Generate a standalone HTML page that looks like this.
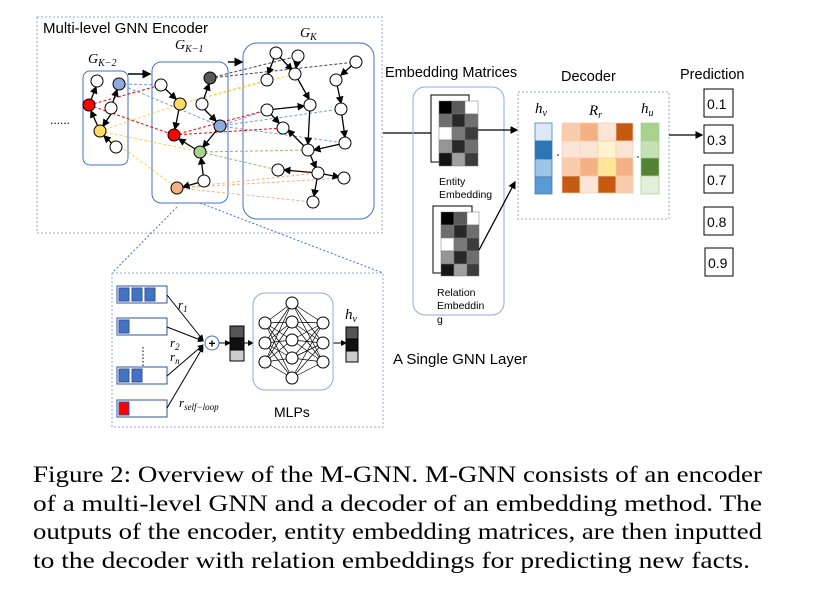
<!DOCTYPE html>
<html><head><meta charset="utf-8"><style>
html,body{margin:0;padding:0;background:#fff;width:836px;height:608px;overflow:hidden}
svg{display:block}
.s{font-family:"Liberation Sans",sans-serif}
.m{font-family:"Liberation Serif",serif;font-style:italic}
</style></head><body>
<svg width="836" height="608" viewBox="0 0 836 608" xmlns="http://www.w3.org/2000/svg">
<defs>
<marker id="a" markerWidth="6" markerHeight="6" refX="5" refY="3" orient="auto"><path d="M0,0 L6,3 L0,6 z" fill="#000"/></marker>
</defs>
<!-- encoder box -->
<rect x="37" y="17" width="345" height="216" fill="none" stroke="#8faadc" stroke-dasharray="2,2"/>
<text x="43" y="33" class="s" font-size="15">Multi-level GNN Encoder</text>
<rect x="83" y="71" width="45" height="94" rx="7" fill="none" stroke="#4472c4"/>
<rect x="152" y="62" width="76" height="141" rx="9" fill="none" stroke="#4472c4"/>
<rect x="243" y="43" width="131" height="176" rx="14" fill="none" stroke="#4472c4"/>
<text x="88" y="63" class="m" font-size="14">G<tspan font-size="10" dy="3">K−2</tspan></text>
<text x="175" y="49" class="m" font-size="14">G<tspan font-size="10" dy="3">K−1</tspan></text>
<text x="300" y="37" class="m" font-size="14">G<tspan font-size="10" dy="3">K</tspan></text>
<text x="50" y="124" class="s" font-size="12">......</text>
<line x1="128" y1="74" x2="150" y2="74" stroke="#000" stroke-width="1.5" marker-end="url(#a)"/>
<line x1="228" y1="62" x2="242" y2="62" stroke="#000" stroke-width="1.5" marker-end="url(#a)"/>
<!-- cross-level dashed links -->
<g fill="none" stroke-dasharray="3,2" stroke-width="1">
<path d="M89,105 L161,85 M89,105 L174,135 M174,135 L267,110 M174,135 L283,128" stroke="#f00"/>
<path d="M119,84 L161,85 M119,84 L220,126 M220,126 L267,110 M220,126 L341,109 M220,126 L345,143" stroke="#4472c4" opacity=".7"/>
<path d="M100,131 L180,104 M100,131 L200,152 M100,131 L177,188 M180,104 L267,80 M180,104 L295,74" stroke="#ffc000" opacity=".7"/>
<path d="M200,152 L308,150 M200,152 L278,170" stroke="#70ad47" opacity=".8"/>
<path d="M177,188 L344,178 M177,188 L313,202 M177,188 L318,173" stroke="#f4b183"/>
<path d="M210,78 L298,56 M210,78 L356,62" stroke="#444"/>
</g>
<!-- graph edges -->
<g stroke="#000" stroke-width="1.3" fill="none" marker-end="url(#a)">
<line x1="89" y1="105" x2="96" y2="87"/><line x1="100" y1="131" x2="91" y2="111"/><line x1="111" y1="108" x2="117" y2="90"/><line x1="111" y1="114" x2="103" y2="126"/><line x1="116" y1="147" x2="104" y2="136"/>
<line x1="161" y1="85" x2="176" y2="99"/><line x1="180" y1="104" x2="175" y2="129"/><line x1="202" y1="104" x2="209" y2="84"/><line x1="204" y1="109" x2="216" y2="121"/><line x1="220" y1="126" x2="203" y2="147"/><line x1="200" y1="152" x2="179" y2="139"/><line x1="204" y1="181" x2="201" y2="158"/><line x1="204" y1="181" x2="183" y2="187"/>
<line x1="276" y1="53" x2="268" y2="74"/><line x1="276" y1="53" x2="292" y2="70"/><line x1="298" y1="56" x2="296" y2="68"/><line x1="295" y1="74" x2="309" y2="99"/><line x1="356" y1="62" x2="341" y2="75"/><line x1="336" y1="80" x2="341" y2="103"/><line x1="341" y1="109" x2="345" y2="137"/><line x1="267" y1="110" x2="304" y2="106"/><line x1="267" y1="110" x2="279" y2="123"/><line x1="310" y1="105" x2="308" y2="144"/><line x1="345" y1="143" x2="314" y2="150"/><line x1="308" y1="150" x2="288" y2="130"/><line x1="308" y1="150" x2="316" y2="168"/><line x1="318" y1="173" x2="284" y2="170"/><line x1="318" y1="173" x2="339" y2="177"/><line x1="318" y1="173" x2="314" y2="196"/>
</g>
<g stroke="#000" stroke-width="1" fill="#fff">
<circle cx="97" cy="81" r="6"/><circle cx="119" cy="84" r="6" fill="#8faadc"/><circle cx="89" cy="105" r="6" fill="#f00"/><circle cx="111" cy="108" r="6"/><circle cx="100" cy="131" r="6" fill="#ffd966"/><circle cx="116" cy="147" r="6"/>
<circle cx="161" cy="85" r="6"/><circle cx="210" cy="78" r="6" fill="#595959"/><circle cx="180" cy="104" r="6" fill="#ffd966"/><circle cx="202" cy="104" r="6"/><circle cx="220" cy="126" r="6" fill="#8faadc"/><circle cx="174" cy="135" r="6" fill="#f00"/><circle cx="200" cy="152" r="6" fill="#a9d18e"/><circle cx="204" cy="181" r="6"/><circle cx="177" cy="188" r="6" fill="#f4b183"/>
<circle cx="276" cy="53" r="6"/><circle cx="298" cy="56" r="6"/><circle cx="356" cy="62" r="6"/><circle cx="267" cy="80" r="6"/><circle cx="295" cy="74" r="6"/><circle cx="336" cy="80" r="6"/><circle cx="267" cy="110" r="6"/><circle cx="310" cy="105" r="6"/><circle cx="341" cy="109" r="6"/><circle cx="283" cy="128" r="6"/><circle cx="345" cy="143" r="6"/><circle cx="308" cy="150" r="6"/><circle cx="278" cy="170" r="6"/><circle cx="318" cy="173" r="6"/><circle cx="344" cy="178" r="6"/><circle cx="313" cy="202" r="6"/>
</g>
<!-- zoom lines -->
<line x1="177" y1="207" x2="112" y2="273" stroke="#4472c4" stroke-dasharray="2,2"/>
<line x1="200" y1="203" x2="383" y2="273" stroke="#4472c4" stroke-dasharray="2,2"/>
<!-- GNN layer box -->
<rect x="112" y="273" width="271" height="154" fill="none" stroke="#8faadc" stroke-dasharray="2,2"/>
<g stroke="#2f5597" stroke-width="1" fill="#fff">
<rect x="117" y="286" width="50" height="17"/><rect x="117" y="318" width="50" height="17"/><rect x="117" y="367" width="50" height="17"/><rect x="117" y="400" width="50" height="17"/>
</g>
<g fill="#4472c4" stroke="#2f5597">
<rect x="119" y="288" width="10" height="13"/><rect x="132" y="288" width="10" height="13"/><rect x="145" y="288" width="10" height="13"/>
<rect x="119" y="320" width="10" height="13"/>
<rect x="119" y="369" width="10" height="13"/><rect x="132" y="369" width="10" height="13"/>
<rect x="119" y="402" width="10" height="13" fill="#f00"/>
</g>
<line x1="143" y1="347" x2="143" y2="368" stroke="#000" stroke-dasharray="1.5,2"/>
<g stroke="#000" stroke-width="1" marker-end="url(#a)">
<line x1="167" y1="295" x2="203" y2="340"/><line x1="167" y1="327" x2="203" y2="341"/><line x1="167" y1="376" x2="203" y2="345"/><line x1="167" y1="408" x2="203" y2="347"/>
<line x1="219" y1="343" x2="230" y2="343"/><line x1="244" y1="343" x2="253" y2="343"/><line x1="333" y1="343" x2="346" y2="343"/>
</g>
<circle cx="212" cy="343" r="7" fill="#fff" stroke="#4472c4"/>
<text x="212" y="347.5" text-anchor="middle" class="s" font-size="12" font-weight="bold">+</text>
<rect x="230" y="326" width="14" height="12" fill="#555" stroke="#000"/><rect x="230" y="338" width="14" height="12" fill="#111" stroke="#000"/><rect x="230" y="350" width="14" height="11" fill="#ccc" stroke="#000"/>
<rect x="346" y="327" width="12" height="12" fill="#555" stroke="#000"/><rect x="346" y="339" width="12" height="12" fill="#111" stroke="#000"/><rect x="346" y="351" width="12" height="11" fill="#ccc" stroke="#000"/>
<rect x="253" y="293" width="80" height="97" rx="12" fill="none" stroke="#8faadc"/>
<g stroke="#000" stroke-width="0.7">
<path d="M265,323 L292,303 M265,323 L292,322 M265,323 L292,340 M265,323 L292,358 M265,323 L292,378 M265,343 L292,303 M265,343 L292,322 M265,343 L292,340 M265,343 L292,358 M265,343 L292,378 M265,362 L292,303 M265,362 L292,322 M265,362 L292,340 M265,362 L292,358 M265,362 L292,378 M323,323 L292,303 M323,323 L292,322 M323,323 L292,340 M323,323 L292,358 M323,323 L292,378 M323,343 L292,303 M323,343 L292,322 M323,343 L292,340 M323,343 L292,358 M323,343 L292,378 M323,362 L292,303 M323,362 L292,322 M323,362 L292,340 M323,362 L292,358 M323,362 L292,378"/>
</g>
<g fill="#fff" stroke="#000">
<circle cx="265" cy="323" r="6"/><circle cx="265" cy="343" r="6"/><circle cx="265" cy="362" r="6"/>
<circle cx="292" cy="303" r="6"/><circle cx="292" cy="322" r="6"/><circle cx="292" cy="340" r="6"/><circle cx="292" cy="358" r="6"/><circle cx="292" cy="378" r="6"/>
<circle cx="323" cy="323" r="6"/><circle cx="323" cy="343" r="6"/><circle cx="323" cy="362" r="6"/>
</g>
<text x="178" y="309" class="m" font-size="13">r<tspan font-size="9" dy="3">1</tspan></text>
<text x="170" y="347" class="m" font-size="13">r<tspan font-size="9" dy="3">2</tspan></text>
<text x="170" y="361" class="m" font-size="13">r<tspan font-size="9" dy="3">n</tspan></text>
<text x="179" y="407" class="m" font-size="13">r<tspan font-size="9" dy="3">self−loop</tspan></text>
<text x="345" y="319" class="m" font-size="15">h<tspan font-size="10" dy="3">v</tspan></text>
<text x="274" y="417" class="s" font-size="14">MLPs</text>
<text x="393" y="364" class="s" font-size="15">A Single GNN Layer</text>
<!-- embedding -->
<text x="385" y="77" class="s" font-size="14.5">Embedding Matrices</text>
<text x="561" y="81" class="s" font-size="14.5">Decoder</text>
<text x="680" y="79" class="s" font-size="14.5">Prediction</text>
<line x1="383" y1="133" x2="437" y2="133" stroke="#000" stroke-width="1.3" marker-end="url(#a)"/>
<rect x="413" y="87" width="91" height="228" rx="12" fill="none" stroke="#8faadc"/>
<rect x="431" y="95" width="38" height="67" fill="#fff" stroke="#000"/>
<g stroke="#777" stroke-width=".5">
<rect x="439" y="101" width="13" height="13" fill="#000"/><rect x="452" y="101" width="13" height="13" fill="#5a5a5a"/><rect x="465" y="101" width="13" height="13" fill="#fff"/>
<rect x="439" y="114" width="13" height="13" fill="#6e6e6e"/><rect x="452" y="114" width="13" height="13" fill="#282828"/><rect x="465" y="114" width="13" height="13" fill="#6e6e6e"/>
<rect x="439" y="127" width="13" height="13" fill="#fff"/><rect x="452" y="127" width="13" height="13" fill="#787878"/><rect x="465" y="127" width="13" height="13" fill="#3c3c3c"/>
<rect x="439" y="140" width="13" height="13" fill="#969696"/><rect x="452" y="140" width="13" height="13" fill="#282828"/><rect x="465" y="140" width="13" height="13" fill="#6e6e6e"/>
<rect x="439" y="153" width="13" height="13" fill="#141414"/><rect x="452" y="153" width="13" height="13" fill="#a0a0a0"/><rect x="465" y="153" width="13" height="13" fill="#3c3c3c"/>
</g>
<text x="439" y="185" class="s" font-size="10.5">Entity</text>
<text x="439" y="198" class="s" font-size="10.5">Embedding</text>
<rect x="433" y="206" width="39" height="67" fill="#fff" stroke="#000"/>
<g stroke="#777" stroke-width=".5">
<rect x="441" y="212" width="13" height="13" fill="#000"/><rect x="454" y="212" width="13" height="13" fill="#5a5a5a"/><rect x="467" y="212" width="12" height="13" fill="#fff"/>
<rect x="441" y="225" width="13" height="13" fill="#6e6e6e"/><rect x="454" y="225" width="13" height="13" fill="#282828"/><rect x="467" y="225" width="12" height="13" fill="#6e6e6e"/>
<rect x="441" y="238" width="13" height="13" fill="#fff"/><rect x="454" y="238" width="13" height="13" fill="#787878"/><rect x="467" y="238" width="12" height="13" fill="#3c3c3c"/>
<rect x="441" y="251" width="13" height="13" fill="#969696"/><rect x="454" y="251" width="13" height="13" fill="#282828"/><rect x="467" y="251" width="12" height="13" fill="#6e6e6e"/>
<rect x="441" y="264" width="13" height="12" fill="#141414"/><rect x="454" y="264" width="13" height="12" fill="#a0a0a0"/><rect x="467" y="264" width="12" height="12" fill="#3c3c3c"/>
</g>
<text x="437" y="296" class="s" font-size="10.5">Relation</text>
<text x="437" y="309" class="s" font-size="10.5">Embeddin</text>
<text x="437" y="323" class="s" font-size="10.5">g</text>
<line x1="478" y1="130" x2="517" y2="130" stroke="#000" stroke-width="1.3" marker-end="url(#a)"/>
<line x1="479" y1="250" x2="515" y2="182" stroke="#000" stroke-width="1.3" marker-end="url(#a)"/>
<!-- decoder -->
<rect x="518" y="92" width="151" height="127" fill="none" stroke="#8faadc" stroke-dasharray="2,2"/>
<text x="535" y="113" class="m" font-size="15">h<tspan font-size="10" dy="3">v</tspan></text>
<text x="589" y="115" class="m" font-size="15">R<tspan font-size="10" dy="3">r</tspan></text>
<text x="641" y="113" class="m" font-size="15">h<tspan font-size="10" dy="3">u</tspan></text>
<g stroke="#2e75b6" stroke-width=".7">
<rect x="535" y="123" width="17" height="18" fill="#dce8f5"/><rect x="535" y="141" width="17" height="18" fill="#2e75b6"/><rect x="535" y="159" width="17" height="18" fill="#9dc3e6"/><rect x="535" y="177" width="17" height="17" fill="#5b9bd5"/>
</g>
<g stroke="#f8cbad" stroke-width=".7">
<rect x="562" y="123" width="18" height="18" fill="#f8cbad"/><rect x="580" y="123" width="18" height="18" fill="#f4b183"/><rect x="598" y="123" width="18" height="18" fill="#fbe5d6"/><rect x="616" y="123" width="17" height="18" fill="#c55a11"/>
<rect x="562" y="141" width="18" height="17" fill="#fbe5d6"/><rect x="580" y="141" width="18" height="17" fill="#fbe5d6"/><rect x="598" y="141" width="18" height="17" fill="#fff2cc"/><rect x="616" y="141" width="17" height="17" fill="#fbe5d6"/>
<rect x="562" y="158" width="18" height="18" fill="#f8cbad"/><rect x="580" y="158" width="18" height="18" fill="#f4b183"/><rect x="598" y="158" width="18" height="18" fill="#ffe699"/><rect x="616" y="158" width="17" height="18" fill="#f4b183"/>
<rect x="562" y="176" width="18" height="17" fill="#c55a11"/><rect x="580" y="176" width="18" height="17" fill="#fbe5d6"/><rect x="598" y="176" width="18" height="17" fill="#c55a11"/><rect x="616" y="176" width="17" height="17" fill="#f8cbad"/>
</g>
<g stroke="#a9d18e" stroke-width=".7">
<rect x="641" y="123" width="18" height="18" fill="#a9d18e"/><rect x="641" y="141" width="18" height="17" fill="#c5e0b4"/><rect x="641" y="158" width="18" height="18" fill="#548235"/><rect x="641" y="176" width="18" height="18" fill="#e2f0d9"/>
</g>
<circle cx="558" cy="155" r=".8" fill="#000"/><circle cx="638" cy="157" r=".8" fill="#000"/>
<line x1="669" y1="135" x2="702" y2="135" stroke="#000" stroke-width="1.3" marker-end="url(#a)"/>
<g fill="#fff" stroke="#000" stroke-width="1">
<rect x="704" y="89" width="29" height="28"/><rect x="704" y="125" width="29" height="28"/><rect x="704" y="165" width="29" height="28"/><rect x="704" y="207" width="29" height="28"/><rect x="705" y="248" width="28" height="28"/>
</g>
<g class="s" font-size="14">
<text x="707" y="109">0.1</text><text x="707" y="145">0.3</text><text x="707" y="185">0.7</text><text x="707" y="227">0.8</text><text x="708" y="268">0.9</text>
</g>
<!-- caption -->
<g font-family="Liberation Serif, serif" font-size="23.5" fill="#000">
<text x="33" y="482" textLength="729" lengthAdjust="spacingAndGlyphs">Figure 2: Overview of the M-GNN. M-GNN consists of an encoder</text>
<text x="33" y="511" textLength="729" lengthAdjust="spacingAndGlyphs">of a multi-level GNN and a decoder of an embedding method. The</text>
<text x="33" y="539" textLength="729" lengthAdjust="spacingAndGlyphs">outputs of the encoder, entity embedding matrices, are then inputted</text>
<text x="33" y="568" textLength="717" lengthAdjust="spacingAndGlyphs">to the decoder with relation embeddings for predicting new facts.</text>
</g>
</svg>
</body></html>
